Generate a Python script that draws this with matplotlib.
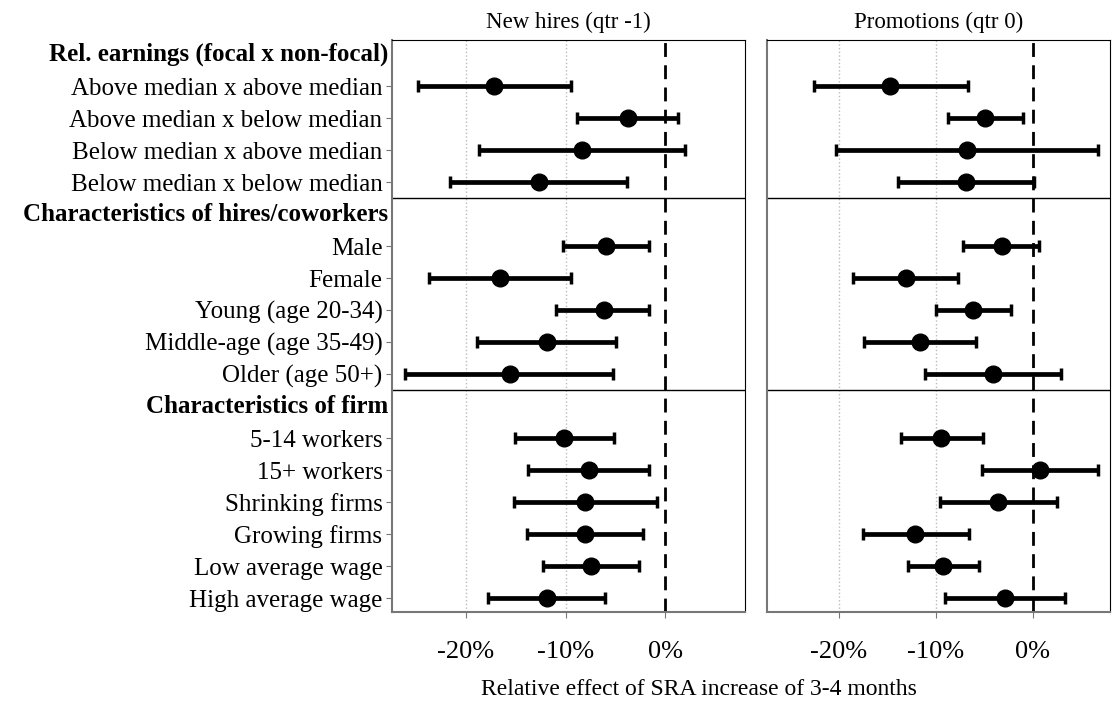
import matplotlib
matplotlib.use("Agg")
import matplotlib.pyplot as plt

labels = ["Rel. earnings (focal x non-focal)", "Above median x above median", "Above median x below median",
          "Below median x above median", "Below median x below median",
          "Characteristics of hires/coworkers", "Male", "Female", "Young (age 20-34)",
          "Middle-age (age 35-49)", "Older (age 50+)",
          "Characteristics of firm", "5-14 workers", "15+ workers", "Shrinking firms",
          "Growing firms", "Low average wage", "High average wage"]
headers = [0, 5, 11]

hires_est = [None, -17.2, -3.8, -8.4, -12.7, None, -6.0, -16.6, -6.2, -11.9, -15.6, None, -10.2, -7.7, -8.1, -8.1, -7.5, -11.9]
hires_lo  = [None, -24.8, -8.9, -18.7, -21.6, None, -10.3, -23.7, -11.0, -18.9, -26.1, None, -15.1, -13.8, -15.2, -13.9, -12.3, -17.8]
hires_hi  = [None, -9.5, 1.3, 2.0, -3.9, None, -1.7, -9.5, -1.6, -5.0, -5.3, None, -5.2, -1.6, -0.8, -2.3, -2.7, -6.1]

prom_est = [None, -14.7, -4.9, -6.8, -6.9, None, -3.2, -13.1, -6.1, -11.6, -4.1, None, -9.4, 0.8, -3.6, -12.1, -9.2, -2.8]
prom_lo  = [None, -22.6, -8.7, -20.3, -13.9, None, -7.2, -18.5, -10.0, -17.4, -11.1, None, -13.6, -5.2, -9.6, -17.5, -12.8, -9.0]
prom_hi  = [None, -6.7, -1.0, 6.7, 0.1, None, 0.7, -7.7, -2.2, -5.8, 2.9, None, -5.1, 6.7, 2.5, -6.6, -5.5, 3.3]

titles = ["New hires (qtr -1)", "Promotions (qtr 0)"]
xticks = [-20, -10, 0]
xticklabels = ["-20%", "-10%", "0%"]

plt.rcParams['font.family'] = ['Liberation Serif', 'DejaVu Serif']
fig = plt.figure(figsize=(11.14, 7.02), dpi=100)
axes = [fig.add_axes([0.352, 0.128, 0.317, 0.815]), fig.add_axes([0.6885, 0.128, 0.308, 0.815])]

for k, (ax, est, lo, hi) in enumerate(zip(axes, [hires_est, prom_est], [hires_lo, prom_lo], [hires_hi, prom_hi])):
    for i in range(len(labels)):
        if est[i] is None:
            continue
        ax.errorbar([est[i]], [i], xerr=[[est[i] - lo[i]], [hi[i] - est[i]]], fmt='o', color='black',
                    ms=12, elinewidth=3.4, capsize=4, capthick=2.5, zorder=3)
    for g in [-20, -10]:
        ax.axvline(g, color='#bbbbbb', ls=':', lw=1, zorder=0)
    ax.axvline(0, color='black', ls=(0, (5, 3)), lw=2, zorder=2)
    for s in [4.5, 10.5]:
        ax.axhline(s, color='black', lw=1)
    ax.set_xlim(-27.4, 8.0)
    ax.set_ylim(17.44, -0.44)
    ax.set_xticks(xticks)
    ax.set_xticklabels(xticklabels, fontsize=19)
    ax.set_title(titles[k], fontsize=16.5, pad=9)
    for sp in ['top', 'right']:
        ax.spines[sp].set_color('black')
    for sp in ['left', 'bottom']:
        ax.spines[sp].set_color('#777777')
        ax.spines[sp].set_linewidth(1.5)
    ax.tick_params(axis='x', length=4, color='#777777', pad=17)
    if k == 0:
        ticks = [i for i in range(len(labels)) if i not in headers]
        ax.set_yticks(ticks)
        ax.set_yticklabels([labels[i] for i in ticks], fontsize=18)
        ax.tick_params(axis='y', length=4, color='#777777', pad=3)
        for h in headers:
            ax.text(-0.012, h, labels[h], transform=ax.get_yaxis_transform(), ha='right', va='center',
                    fontsize=18, fontweight='bold')
    else:
        ax.set_yticks([])

fig.text(0.627, 0.018, "Relative effect of SRA increase of 3-4 months", ha='center', va='center', fontsize=17)
fig.savefig("out.png", dpi=100)
